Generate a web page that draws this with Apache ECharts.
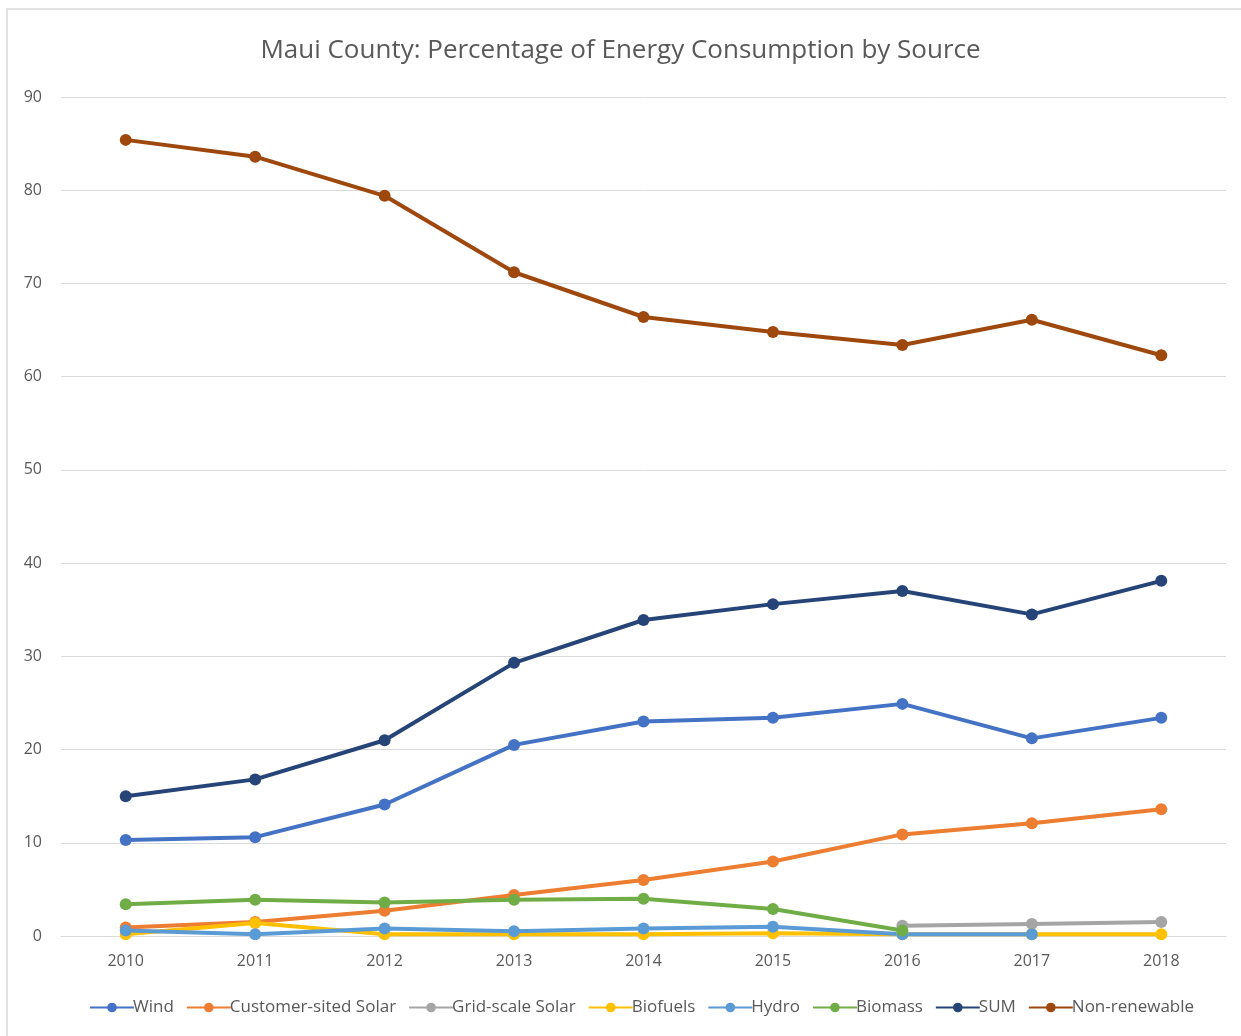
<!DOCTYPE html>
<html>
<head>
<meta charset="utf-8">
<script src="https://cdn.jsdelivr.net/npm/echarts@6/dist/echarts.min.js"></script>
<style>
  html, body { margin: 0; padding: 0; background: #fff; }
  #chart { width: 1241px; height: 1036px; }
</style>
</head>
<body>
<div id="chart"></div>
<script>
// Years on the category axis
const years = ['2010', '2011', '2012', '2013', '2014', '2015', '2016', '2017', '2018'];

// Share of energy consumption (%) by source
const wind = [10.3, 10.6, 14.1, 20.5, 23.0, 23.4, 24.9, 21.2, 23.4];
const customerSolar = [0.9, 1.5, 2.7, 4.4, 6.0, 8.0, 10.9, 12.1, 13.6];
const gridSolar = [null, null, null, null, null, null, 1.1, 1.3, 1.5];
const biofuels = [0.2, 1.4, 0.2, 0.2, 0.2, 0.3, 0.2, 0.2, 0.2];
const hydro = [0.6, 0.2, 0.8, 0.5, 0.8, 1.0, 0.2, 0.2, null];
const biomass = [3.4, 3.9, 3.6, 3.9, 4.0, 2.9, 0.6, null, null];
const sum = [15.0, 16.8, 21.0, 29.3, 33.9, 35.6, 37.0, 34.5, 38.1];
const nonRenewable = [85.4, 83.6, 79.4, 71.2, 66.4, 64.8, 63.4, 66.1, 62.3];

// Y-axis tick range
const yMin = 0, yMax = 90, yStep = 10;

const seriesDefs = [
  { name: 'Wind', data: wind, color: '#4472C4' },
  { name: 'Customer-sited Solar', data: customerSolar, color: '#ED7D31' },
  { name: 'Grid-scale Solar', data: gridSolar, color: '#A5A5A5' },
  { name: 'Biofuels', data: biofuels, color: '#FFC000' },
  { name: 'Hydro', data: hydro, color: '#5B9BD5' },
  { name: 'Biomass', data: biomass, color: '#70AD47' },
  { name: 'SUM', data: sum, color: '#264478' },
  { name: 'Non-renewable', data: nonRenewable, color: '#9E480E' }
];

const textColor = '#595959';
const font = '"Open Sans", "Noto Sans", sans-serif';

const chart = echarts.init(document.getElementById('chart'));
chart.setOption({
  animation: false,
  backgroundColor: '#ffffff',
  textStyle: { fontFamily: font },
  graphic: [{
    type: 'rect',
    shape: { x: 7, y: 9, width: 1260, height: 1060 },
    style: { fill: 'none', stroke: '#d9d9d9', lineWidth: 1.5 },
    silent: true
  }],
  title: {
    text: 'Maui County: Percentage of Energy Consumption by Source',
    left: 'center',
    top: 33,
    textStyle: { fontSize: 26, fontWeight: 'normal', color: textColor, fontFamily: font }
  },
  legend: {
    bottom: 15,
    left: 84,
    itemGap: 12,
    itemWidth: 44,
    itemHeight: 12,
    textStyle: { fontSize: 17, color: textColor, fontFamily: font, padding: [0, 0, 0, -6] },
    data: seriesDefs.map(s => s.name)
  },
  grid: { left: 61, right: 15, top: 97, bottom: 100, containLabel: false },
  xAxis: {
    type: 'category',
    data: years,
    boundaryGap: true,
    axisLine: { lineStyle: { color: '#d9d9d9', width: 1 } },
    axisTick: { show: false },
    axisLabel: { fontSize: 16, color: textColor, margin: 17 }
  },
  yAxis: {
    type: 'value',
    min: yMin,
    max: yMax,
    interval: yStep,
    axisLine: { show: false },
    axisTick: { show: false },
    splitLine: { lineStyle: { color: '#d9d9d9', width: 1 } },
    axisLabel: { fontSize: 16, color: textColor, margin: 19 }
  },
  series: seriesDefs.map(s => ({
    name: s.name,
    type: 'line',
    data: s.data,
    symbol: 'circle',
    symbolSize: 12,
    connectNulls: false,
    lineStyle: { width: 4, color: s.color },
    itemStyle: { color: s.color },
    emphasis: { disabled: true }
  }))
});
</script>
</body>
</html>
